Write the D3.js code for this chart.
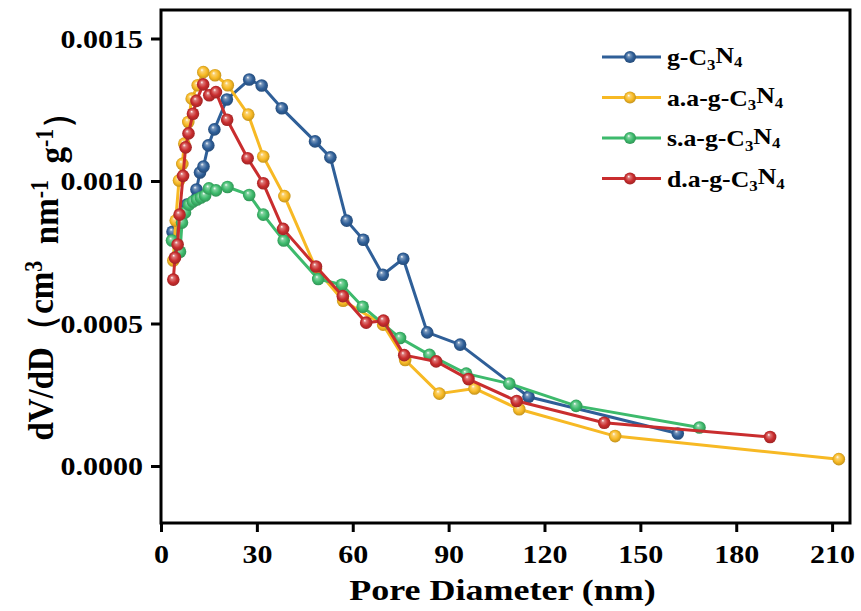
<!DOCTYPE html>
<html>
<head>
<meta charset="utf-8">
<script src="https://cdn.jsdelivr.net/npm/d3@7"></script>
<style>
  html, body { margin: 0; padding: 0; background: #fff; }
  svg { display: block; }
  text { font-family: "Liberation Serif", "Times New Roman", serif; font-weight: bold; fill: #000; }
</style>
</head>
<body>
<svg id="chart" width="861" height="611"></svg>
<script>
// ---------------- DATA ----------------
const xTicks = [0, 30, 60, 90, 120, 150, 180, 210];
const yTicks = [0.0000, 0.0005, 0.0010, 0.0015];
const xDomain = [0, 215.6];
const yDomain = [-0.0002, 0.0016];

const seriesNames = ["g", "a.a-g", "s.a-g", "d.a-g"];
const seriesColors = ["#2f5f98", "#f7b924", "#3dba6c", "#c92d2e"];

// g-C3N4
const gX = [3.6, 5.3, 8.1, 11.1, 12.2, 13.3, 14.8, 16.7, 20.6, 27.6, 31.5, 37.8, 48.2, 53.0, 58.1, 63.3, 69.4, 75.8, 83.3, 93.6, 115.0, 161.7];
const gY = [0.000822, 0.000847, 0.000917, 0.000970, 0.001030, 0.001051, 0.001125, 0.001181, 0.001286, 0.001356, 0.001335, 0.001255, 0.001139, 0.001083, 0.000861, 0.000794, 0.000671, 0.000727, 0.000469, 0.000426, 0.000243, 0.000114];

// a.a-g-C3N4
const aaX = [3.85, 4.6, 5.63, 6.67, 7.29, 8.54, 9.61, 11.49, 13.24, 16.9, 20.9, 27.3, 32.0, 38.6, 48.5, 57.0, 69.5, 76.4, 87.1, 98.1, 112.1, 142.1, 212.1];
const aaY = [0.000721, 0.000861, 0.001002, 0.001060, 0.001131, 0.001207, 0.001289, 0.001336, 0.001382, 0.001371, 0.001336, 0.001233, 0.001086, 0.000947, 0.000692, 0.000580, 0.000496, 0.000372, 0.000254, 0.000272, 0.000199, 0.000105, 0.000024];

// s.a-g-C3N4
const saX = [3.44, 5.95, 6.57, 7.51, 8.76, 10.0, 11.27, 12.5, 13.8, 15.0, 17.2, 20.8, 27.6, 32.0, 38.4, 49.2, 56.6, 63.1, 74.8, 84.0, 95.5, 109.0, 129.9, 168.5];
const saY = [0.000791, 0.000752, 0.000854, 0.000889, 0.000917, 0.000928, 0.000935, 0.000942, 0.000949, 0.000974, 0.000967, 0.000979, 0.000951, 0.000882, 0.000791, 0.000656, 0.000636, 0.000559, 0.000449, 0.000390, 0.000324, 0.000289, 0.000211, 0.000135];

// d.a-g-C3N4
const daX = [3.85, 4.38, 5.2, 5.8, 6.9, 7.7, 8.6, 10.0, 11.1, 13.2, 15.1, 17.2, 20.7, 27.1, 32.0, 38.2, 48.5, 56.9, 64.2, 69.6, 76.1, 86.1, 96.2, 111.3, 138.7, 190.6];
const daY = [0.000654, 0.000731, 0.000777, 0.000882, 0.001018, 0.001118, 0.001167, 0.001236, 0.001281, 0.001339, 0.001301, 0.001312, 0.001215, 0.001080, 0.000992, 0.000832, 0.000700, 0.000596, 0.000503, 0.000510, 0.000389, 0.000367, 0.000305, 0.000228, 0.000152, 0.000102];

const seriesX = [gX, aaX, saX, daX];
const seriesY = [gY, aaY, saY, daY];

// ---------------- LAYOUT ----------------
const W = 861, H = 611;
const margin = { left: 161, top: 10, right: 11, bottom: 88 };
const pw = W - margin.left - margin.right;
const ph = H - margin.top - margin.bottom;
const SX = 1.2; // horizontal stretch of text seen in the reference

const svg = d3.select("#chart");
const defs = svg.append("defs");

seriesColors.forEach((c, i) => {
  const g = defs.append("radialGradient").attr("id", "ball" + i)
    .attr("cx", "50%").attr("cy", "50%").attr("r", "55%")
    .attr("fx", "38%").attr("fy", "32%");
  g.append("stop").attr("offset", "0%").attr("stop-color", "#ffffff");
  g.append("stop").attr("offset", "22%").attr("stop-color", d3.interpolateRgb(c, "#fff")(0.35));
  g.append("stop").attr("offset", "60%").attr("stop-color", c);
  g.append("stop").attr("offset", "100%").attr("stop-color", d3.interpolateRgb(c, "#000")(0.25));
});

const x = d3.scaleLinear().domain(xDomain).range([0, pw]);
const y = d3.scaleLinear().domain(yDomain).range([ph, 0]);

const plot = svg.append("g").attr("transform", `translate(${margin.left},${margin.top})`);

// series
const line = d3.line().x(d => x(d[0])).y(d => y(d[1]));
const dataLayer = plot.append("g");
seriesX.forEach((xs, i) => {
  const pts = xs.map((v, j) => [v, seriesY[i][j]]);
  const g = dataLayer.append("g");
  g.append("path").datum(pts).attr("d", line)
    .attr("fill", "none").attr("stroke", seriesColors[i]).attr("stroke-width", 3)
    .attr("stroke-linejoin", "round");
  g.selectAll("circle").data(pts).enter().append("circle")
    .attr("cx", d => x(d[0])).attr("cy", d => y(d[1])).attr("r", 6.3)
    .attr("fill", `url(#ball${i})`);
});

// axes
const xAxis = d3.axisBottom(x).tickValues(xTicks).tickSize(9).tickPadding(13).tickFormat(d3.format("d"));
const yAxis = d3.axisLeft(y).tickValues(yTicks).tickSize(10).tickPadding(8).tickFormat(d3.format(".4f"));

const gx = plot.append("g").attr("transform", `translate(0,${ph})`).call(xAxis);
const gy = plot.append("g").call(yAxis);
[gx, gy].forEach(g => {
  g.select(".domain").remove();
  g.selectAll(".tick line").attr("stroke", "#000").attr("stroke-width", 3);
  g.selectAll(".tick text").attr("font-size", 25).attr("font-family", "Liberation Serif").attr("font-weight", "bold").attr("fill", "#000");
});
gx.selectAll(".tick text").attr("transform", `scale(${SX},1)`).attr("dy", "0.71em");
gy.selectAll(".tick text").each(function() {
  const t = d3.select(this);
  t.attr("x", -18 / SX).attr("transform", `scale(${SX},1)`).attr("dy", "0.34em");
});

// frame
plot.append("rect").attr("x", 0).attr("y", 0).attr("width", pw).attr("height", ph)
  .attr("fill", "none").attr("stroke", "#000").attr("stroke-width", 3);

// axis titles
svg.append("text")
  .attr("transform", `translate(${margin.left + pw / 2 - 3},${600}) scale(${SX},1)`)
  .attr("text-anchor", "middle").attr("font-size", 30)
  .text("Pore Diameter (nm)");

const yt = svg.append("text")
  .attr("transform", `translate(${53},${268}) scale(1.1,1) rotate(-90)`)
  .attr("text-anchor", "middle").attr("font-size", 33);
yt.append("tspan").text("dV/dD\uFF08cm");
yt.append("tspan").attr("dy", "-0.45em").attr("font-size", 22).text("3");
yt.append("tspan").attr("dy", "0.45em").text("\u00A0 nm");
yt.append("tspan").attr("dy", "-0.45em").attr("font-size", 22).text("-1");
yt.append("tspan").attr("dy", "0.45em").text("\u00A0 g");
yt.append("tspan").attr("dy", "-0.45em").attr("font-size", 22).text("-1");
yt.append("tspan").attr("dy", "0.45em").text("\uFF09");

// legend
const legY0 = 57, legDY = 40.5;
const leg = svg.append("g");
seriesNames.forEach((name, i) => {
  const gy0 = legY0 + i * legDY;
  const g = leg.append("g").attr("transform", `translate(0,${gy0})`);
  g.append("line").attr("x1", 602).attr("x2", 661).attr("y1", 0).attr("y2", 0)
    .attr("stroke", seriesColors[i]).attr("stroke-width", 3);
  g.append("circle").attr("cx", 630).attr("cy", 0).attr("r", 6).attr("fill", `url(#ball${i})`);
  const t = g.append("text").attr("transform", `translate(667,8) scale(1.12,1)`).attr("font-size", 23);
  t.append("tspan").text(name + "-C");
  t.append("tspan").attr("dy", "0.3em").attr("font-size", 15).text("3");
  t.append("tspan").attr("dy", "-0.3em").text("N");
  t.append("tspan").attr("dy", "0.3em").attr("font-size", 15).text("4");
});
</script>
</body>
</html>
